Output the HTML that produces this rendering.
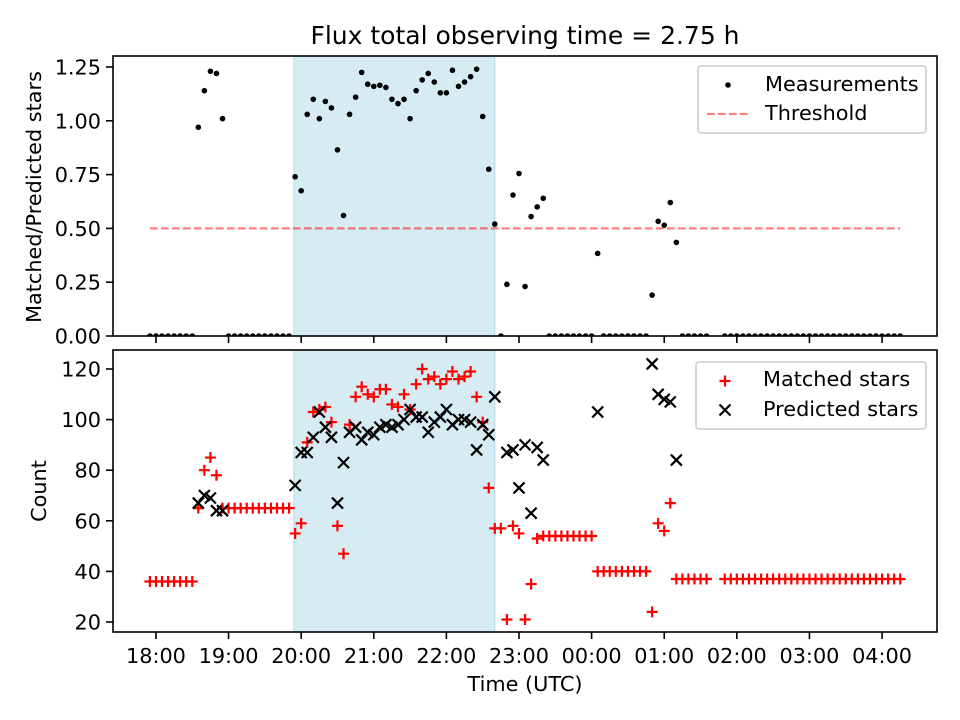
<!DOCTYPE html>
<html><head><meta charset="utf-8"><style>
body{margin:0;background:#fff}
svg{display:block;font-family:"DejaVu Sans","Liberation Sans",sans-serif}
</style></head><body>
<svg id="c" width="960" height="720" viewBox="0 0 960 720"></svg>
<script>
const xTickMins=[0,60,120,180,240,300,360,420,480,540,600];
const xTickLabels=["18:00","19:00","20:00","21:00","22:00","23:00","00:00","01:00","02:00","03:00","04:00"];
const topTicks=[0,0.25,0.5,0.75,1.0,1.25];
const topTickLabels=["0.00","0.25","0.50","0.75","1.00","1.25"];
const botTicks=[20,40,60,80,100,120];
const ratioT=[-5,0,5,10,15,20,25,30,35,40,45,50,55,60,65,70,75,80,85,90,95,100,105,110,115,120,125,130,135,140,145,150,155,160,165,170,175,180,185,190,195,200,205,210,215,220,225,230,235,240,245,250,255,260,265,270,275,280,285,290,295,300,305,310,315,320,325,330,335,340,345,350,355,360,365,370,375,380,385,390,395,400,405,410,415,420,425,430,435,440,445,450,455,470,475,480,485,490,495,500,505,510,515,520,525,530,535,540,545,550,555,560,565,570,575,580,585,590,595,600,605,610,615];
const ratioV=[0,0,0,0,0,0,0,0,0.97,1.14,1.23,1.22,1.01,0,0,0,0,0,0,0,0,0,0,0,0.74,0.675,1.03,1.1,1.01,1.09,1.06,0.865,0.56,1.03,1.11,1.225,1.17,1.16,1.165,1.155,1.10,1.08,1.10,1.01,1.14,1.19,1.22,1.18,1.13,1.13,1.235,1.16,1.18,1.205,1.24,1.02,0.775,0.52,0,0.24,0.655,0.755,0.23,0.555,0.6,0.64,0,0,0,0,0,0,0,0,0.384,0,0,0,0,0,0,0,0,0.19,0.533,0.515,0.62,0.435,0,0,0,0,0,0,0,0,0,0,0,0,0,0,0,0,0,0,0,0,0,0,0,0,0,0,0,0,0,0,0,0,0,0,0,0];
const matchedT=ratioT;
const matchedV=[36,36,36,36,36,36,36,36,65,80,85,78,65,65,65,65,65,65,65,65,65,65,65,65,55,59,91,103,104,105,99,58,47,98,109,113,110,109,112,112,106,105,110,104,114,120,116,117,114,116,119,116,117,119,109,99,73,57,57,21,58,55,21,35,53,54,54,54,54,54,54,54,54,54,40,40,40,40,40,40,40,40,40,24,59,56,67,37,37,37,37,37,37,37,37,37,37,37,37,37,37,37,37,37,37,37,37,37,37,37,37,37,37,37,37,37,37,37,37,37,37,37,37];
const predT=[35,40,45,50,55,115,120,125,130,135,140,145,150,155,160,165,170,175,180,185,190,195,200,205,210,215,220,225,230,235,240,245,250,255,260,265,270,275,280,290,295,300,305,310,315,320,365,410,415,420,425,430];
const predV=[67,70,69,64,64,74,87,87,93,103,97,93,67,83,95,97,92,95,94,97,98,97,98,100,104,101,101,95,99,101,104,98,100,100,99,88,98,94,109,87,88,73,90,63,89,84,103,122,110,108,107,84];
const thresholdValue=0.5, thresholdStart=-5, thresholdEnd=615;
const shadeStart=114, shadeEnd=280;

const NS="http://www.w3.org/2000/svg";
const svg=document.getElementById('c');
function mk(tag,attrs,parent){const e=document.createElementNS(NS,tag);for(const k in attrs)e.setAttribute(k,attrs[k]);(parent||svg).appendChild(e);return e;}
const L=113,R=937;
const xMin=-35.5,xMax=645.4;
function X(m){return L+(m-xMin)/(xMax-xMin)*(R-L);}
const T={top:56,bot:336};
function YT(v){return 336-v*215.2;}
const B={top:350,bot:632};
function YB(v){return 622-(v-20)*2.53;}
const FS='20.8';

const title=mk('text',{x:525,y:44,'text-anchor':'middle','font-size':'25'});
title.textContent='Flux total observing time = 2.75 h';



function panel(P,name){
  const g=mk('g',{});
  
  
  const cp=mk('clipPath',{id:'cp'+name},g);
  mk('rect',{x:L,y:P.top,width:R-L,height:P.bot-P.top},cp);
  const sh=mk('rect',{x:X(shadeStart),y:P.top,width:X(shadeEnd)-X(shadeStart),height:P.bot-P.top,fill:'#add8e6','fill-opacity':'0.5',stroke:'#add8e6','stroke-width':1},g);
  
  
  return g;
}
function frame(P,g){
  const f=mk('rect',{x:L,y:P.top,width:R-L,height:P.bot-P.top,fill:'none',stroke:'#000','stroke-width':1.6},g);
  
  
  xTickMins.forEach((m,i)=>{mk('line',{x1:X(m),x2:X(m),y1:P.bot,y2:P.bot+7,stroke:'#000','stroke-width':1.6},g);});
}
function yTicks(P,g,ticks,labels,Y){
  ticks.forEach((v,i)=>{
    mk('line',{x1:L-7,x2:L,y1:Y(v),y2:Y(v),stroke:'#000','stroke-width':1.6},g);
    const t=mk('text',{x:L-12,y:Y(v)+7.5,'text-anchor':'end','font-size':FS},g);
    t.textContent=labels[i];
    
    
  });
}

const gt=panel(T,'ratio-panel');
const gtc=mk('g',{'clip-path':'url(#cpratio-panel)'},gt);
const th=mk('line',{x1:X(thresholdStart),x2:X(thresholdEnd),y1:YT(thresholdValue),y2:YT(thresholdValue),stroke:'#ff0000','stroke-opacity':'0.5','stroke-width':2.2,'stroke-dasharray':'7.7,3.3'},gtc);


ratioT.forEach((m,i)=>{
  const c=mk('circle',{cx:X(m),cy:YT(ratioV[i]),r:2.8,fill:'#000'},gtc);
  
  
});
frame(T,gt);
yTicks(T,gt,topTicks,topTickLabels,YT);
const yl1=mk('text',{transform:'translate(41,197) rotate(-90)','text-anchor':'middle','font-size':FS},gt);
yl1.textContent='Matched/Predicted stars';



const lg1=mk('g',{},gt);


mk('rect',{x:698,y:66,width:228,height:67,rx:3,fill:'#fff','fill-opacity':'0.8',stroke:'#ccc','stroke-width':1.6},lg1);
mk('circle',{cx:728,cy:85,r:2.8,fill:'#000'},lg1);
let t=mk('text',{x:765,y:91,'font-size':FS},lg1);t.textContent='Measurements';
mk('line',{x1:707,x2:748,y1:114,y2:114,stroke:'#ff0000','stroke-opacity':'0.5','stroke-width':2.2,'stroke-dasharray':'7.7,3.3'},lg1);
t=mk('text',{x:765,y:120,'font-size':FS},lg1);t.textContent='Threshold';

const gb=panel(B,'count-panel');
const gbc=mk('g',{'clip-path':'url(#cpcount-panel)'},gb);
function plus(x,y,p){mk('path',{d:`M${x-5.5},${y}H${x+5.5}M${x},${y-5.5}V${y+5.5}`,stroke:'#ff0000','stroke-width':2.2},p);}
function cross(x,y,p){mk('path',{d:`M${x-5.5},${y-5.5}L${x+5.5},${y+5.5}M${x-5.5},${y+5.5}L${x+5.5},${y-5.5}`,stroke:'#000','stroke-width':2.2},p);}
matchedT.forEach((m,i)=>{
  const g=mk('g',{},gbc);
  
  
  plus(X(m),YB(matchedV[i]),g);
});
predT.forEach((m,i)=>{
  const g=mk('g',{},gbc);
  
  
  cross(X(m),YB(predV[i]),g);
});
frame(B,gb);
yTicks(B,gb,botTicks,botTicks.map(String),YB);
const yl2=mk('text',{transform:'translate(46,491) rotate(-90)','text-anchor':'middle','font-size':FS},gb);
yl2.textContent='Count';


xTickMins.forEach((m,i)=>{
  const tl=mk('text',{x:X(m),y:663,'text-anchor':'middle','font-size':FS},gb);
  tl.textContent=xTickLabels[i];
  
  
});
const xl=mk('text',{x:525,y:691,'text-anchor':'middle','font-size':FS},gb);
xl.textContent='Time (UTC)';



const lg2=mk('g',{},gb);


mk('rect',{x:696,y:362,width:230,height:67,rx:3,fill:'#fff','fill-opacity':'0.8',stroke:'#ccc','stroke-width':1.6},lg2);
plus(725,381,lg2);
t=mk('text',{x:763,y:386,'font-size':FS},lg2);t.textContent='Matched stars';
cross(725,410,lg2);
t=mk('text',{x:763,y:416,'font-size':FS},lg2);t.textContent='Predicted stars';
</script>
</body></html>
